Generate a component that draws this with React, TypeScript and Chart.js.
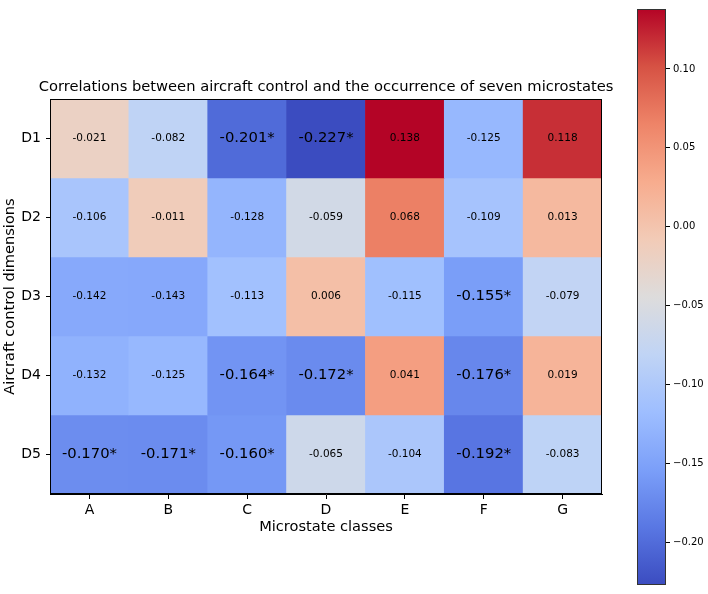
import React, { useEffect, useRef } from 'react';
import { Chart, registerables } from 'chart.js';

Chart.register(...registerables);

const columns = ['A', 'B', 'C', 'D', 'E', 'F', 'G'];
const rows = ['D1', 'D2', 'D3', 'D4', 'D5'];

const rowD1 = [-0.021, -0.082, -0.201, -0.227, 0.138, -0.125, 0.118];
const rowD2 = [-0.106, -0.011, -0.128, -0.059, 0.068, -0.109, 0.013];
const rowD3 = [-0.142, -0.143, -0.113, 0.006, -0.115, -0.155, -0.079];
const rowD4 = [-0.132, -0.125, -0.164, -0.172, 0.041, -0.176, 0.019];
const rowD5 = [-0.17, -0.171, -0.16, -0.065, -0.104, -0.192, -0.083];

const sigD1 = [0, 0, 1, 1, 0, 0, 0];
const sigD2 = [0, 0, 0, 0, 0, 0, 0];
const sigD3 = [0, 0, 0, 0, 0, 1, 0];
const sigD4 = [0, 0, 1, 1, 0, 1, 0];
const sigD5 = [1, 1, 1, 0, 0, 1, 0];

const colorbarTicks = [-0.2, -0.15, -0.1, -0.05, 0, 0.05, 0.1];
const vmin = -0.227;
const vmax = 0.138;

const titleText = 'Correlations between aircraft control and the occurrence of seven microstates';

const rowValues = [rowD1, rowD2, rowD3, rowD4, rowD5];
const rowSig = [sigD1, sigD2, sigD3, sigD4, sigD5];

// matplotlib coolwarm sampled at 11 points
const coolwarm = [
  '#3b4cc0', '#5977e3', '#7b9ff9', '#9ebeff', '#c0d4f5', '#dddcdc',
  '#f2cbb7', '#f7ac8e', '#ee8468', '#d65244', '#b40426',
];

function hexToRgb(h: string) {
  return [parseInt(h.slice(1, 3), 16), parseInt(h.slice(3, 5), 16), parseInt(h.slice(5, 7), 16)];
}

function cmap(t: number) {
  const tt = Math.max(0, Math.min(1, t));
  const pos = tt * (coolwarm.length - 1);
  const i = Math.min(Math.floor(pos), coolwarm.length - 2);
  const f = pos - i;
  const a = hexToRgb(coolwarm[i]);
  const b = hexToRgb(coolwarm[i + 1]);
  const c = a.map((v, k) => Math.round(v + (b[k] - v) * f));
  return `rgb(${c[0]},${c[1]},${c[2]})`;
}

const FONT = 'DejaVu Sans';

export default function App() {
  const mainRef = useRef<HTMLCanvasElement>(null);
  const cbRef = useRef<HTMLCanvasElement>(null);

  useEffect(() => {
    Chart.defaults.font.family = FONT;
    Chart.defaults.color = '#000';

    const cellText = {
      id: 'cellText',
      afterDatasetsDraw(chart: any) {
        const ctx = chart.ctx;
        ctx.save();
        ctx.fillStyle = '#000';
        ctx.textAlign = 'center';
        ctx.textBaseline = 'middle';
        chart.data.datasets.forEach((ds: any, i: number) => {
          const meta = chart.getDatasetMeta(i);
          meta.data.forEach((el: any, j: number) => {
            const p = el.getProps(['x', 'y', 'base'], true);
            const v = rowValues[i][j];
            const sig = rowSig[i][j] === 1;
            ctx.font = `${sig ? 14.8 : 10.5}px "${FONT}"`;
            ctx.fillText(v.toFixed(3) + (sig ? '*' : ''), p.x, (p.y + p.base) / 2);
          });
        });
        ctx.restore();
      },
      afterDraw(chart: any) {
        const { ctx, chartArea: a } = chart;
        ctx.save();
        ctx.strokeStyle = '#000';
        ctx.lineWidth = 1;
        ctx.strokeRect(Math.round(a.left) + 0.5, Math.round(a.top) + 0.5, Math.round(a.right - a.left) - 1, Math.round(a.bottom - a.top) - 1);
        // title centred over the plot area
        ctx.fillStyle = '#000';
        ctx.font = `14.7px "${FONT}"`;
        ctx.textAlign = 'center';
        ctx.textBaseline = 'middle';
        ctx.fillText(titleText, (a.left + a.right) / 2, a.top - 11.5);
        ctx.restore();
      },
    };

    const main = new Chart(mainRef.current!, {
      type: 'bar',
      data: {
        labels: columns,
        datasets: rowValues.map((vals, r) => ({
          label: rows[r],
          data: vals.map(() => 1),
          backgroundColor: vals.map((v) => cmap((v - vmin) / (vmax - vmin))),
          borderWidth: 0,
          barPercentage: 1,
          categoryPercentage: 1,
          stack: 's',
        })),
      },
      options: {
        responsive: false,
        animation: false,
        layout: { padding: { left: 0, right: 106, top: 99, bottom: 55 } },
        plugins: {
          legend: { display: false },
          tooltip: { enabled: false },
          title: { display: false },
        },
        scales: {
          x: {
            type: 'category',
            stacked: true,
            grid: { display: true, drawOnChartArea: false, drawTicks: true, tickLength: 5, offset: false, color: '#000' },
            border: { display: true, color: '#000' },
            ticks: { font: { size: 14 }, padding: 3, color: '#000' },
            title: { display: true, text: 'Microstate classes', font: { size: 14.6 }, color: '#000', padding: { top: 0, bottom: 3.2 } },
            afterFit: (s: any) => { s.height = 45; },
          },
          y: {
            type: 'linear',
            stacked: true,
            min: 0,
            max: 5,
            reverse: true,
            afterBuildTicks: (s: any) => { s.ticks = rows.map((_, i) => ({ value: i + 0.5 })); },
            ticks: { font: { size: 14 }, padding: 5, color: '#000', callback: (v: any) => rows[Math.floor(Number(v))] },
            grid: { display: true, drawOnChartArea: false, drawTicks: true, tickLength: 4, color: '#000' },
            border: { display: true, color: '#000' },
            title: { display: true, text: 'Aircraft control dimensions', font: { size: 14.6 }, color: '#000', padding: { top: 1.2, bottom: 0 } },
            afterFit: (s: any) => { s.width = 50; },
          },
        },
      },
      plugins: [cellText],
    } as any);

    const cbOutline = {
      id: 'cbOutline',
      afterDraw(chart: any) {
        const { ctx, chartArea: a } = chart;
        ctx.save();
        ctx.strokeStyle = '#333';
        ctx.lineWidth = 1;
        ctx.strokeRect(Math.round(a.left) + 0.5, Math.round(a.top) + 0.5, Math.round(a.right - a.left) - 1, Math.round(a.bottom - a.top) - 1);
        ctx.restore();
      },
    };

    const cb = new Chart(cbRef.current!, {
      type: 'bar',
      data: {
        labels: [''],
        datasets: [{
          data: [[vmin, vmax]],
          backgroundColor: (c: any) => {
            const chart = c.chart;
            const area = chart.chartArea;
            if (!area) return '#ccc';
            const g = chart.ctx.createLinearGradient(0, area.bottom, 0, area.top);
            coolwarm.forEach((col, i) => g.addColorStop(i / (coolwarm.length - 1), col));
            return g;
          },
          borderWidth: 0,
          barPercentage: 1,
          categoryPercentage: 1,
        }],
      },
      options: {
        responsive: false,
        animation: false,
        layout: { padding: { left: 37, right: 0, top: 4, bottom: 4 } },
        plugins: { legend: { display: false }, tooltip: { enabled: false }, title: { display: false } },
        scales: {
          x: { display: false },
          y: {
            position: 'right',
            min: vmin,
            max: vmax,
            afterBuildTicks: (s: any) => { s.ticks = colorbarTicks.map((v) => ({ value: v })); },
            ticks: {
              font: { size: 10 },
              padding: 3,
              color: '#000',
              callback: (v: any) => {
                const n = Number(v);
                return (n < -1e-9 ? '\u2212' : '') + Math.abs(n).toFixed(2);
              },
            },
            grid: { display: true, drawOnChartArea: false, drawTicks: true, tickLength: 4, color: '#000' },
            border: { display: false },
            afterFit: (s: any) => { s.width = 42; },
          },
        },
      },
      plugins: [cbOutline],
    } as any);

    return () => {
      main.destroy();
      cb.destroy();
    };
  }, []);

  return (
    <div style={{ position: 'absolute', left: 0, top: 0, width: 708, height: 594, background: '#fff' }}>
      <canvas ref={mainRef} width={708} height={594} style={{ position: 'absolute', left: 0, top: 0 }} />
      <canvas ref={cbRef} width={108} height={594} style={{ position: 'absolute', left: 600, top: 0 }} />
    </div>
  );
}
